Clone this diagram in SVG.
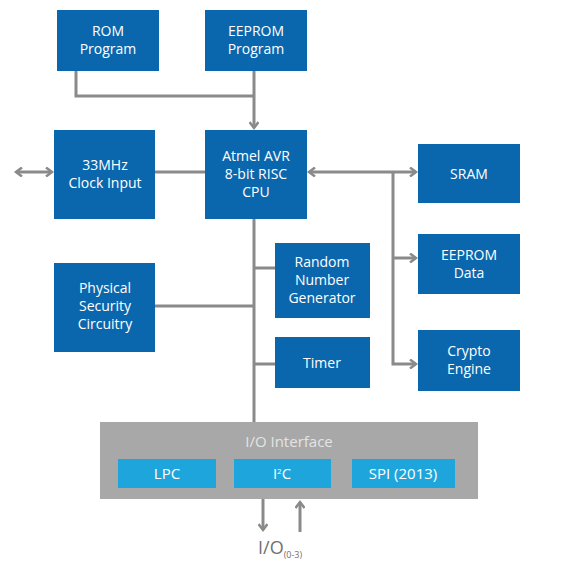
<svg xmlns="http://www.w3.org/2000/svg" width="574" height="561" viewBox="0 0 574 561">
<style>
.n{fill:#0b67ad}
.t{fill:#ffffff;font-family:"Open Sans","Liberation Sans",sans-serif;font-size:14px;text-anchor:middle}
.c{stroke:#8a8a8a;stroke-width:3;fill:none}
.s{fill:#1ea6dc}
.st{fill:#ffffff;font-family:"Open Sans","Liberation Sans",sans-serif;font-size:15px;text-anchor:middle}
</style>
<defs>
<marker id="a" markerWidth="10" markerHeight="10" refX="7" refY="5" orient="auto-start-reverse" markerUnits="userSpaceOnUse">
<path d="M1,0.5 L7,5 L1,9.5" fill="none" stroke="#8a8a8a" stroke-width="2.5"/>
</marker>
</defs>
<g id="connectors">
<path class="c" d="M76,71 V96 H254"/>
<path class="c" d="M254,71 V128" marker-end="url(#a)"/>
<path class="c" d="M16,172 H52" marker-start="url(#a)" marker-end="url(#a)"/>
<path class="c" d="M155,172 H205"/>
<path class="c" d="M309,172 H416" marker-start="url(#a)" marker-end="url(#a)"/>
<path class="c" d="M393,172 V364 H416" marker-end="url(#a)"/>
<path class="c" d="M393,258 H416" marker-end="url(#a)"/>
<path class="c" d="M254,219 V422"/>
<path class="c" d="M254,268 H275"/>
<path class="c" d="M254,364 H275"/>
<path class="c" d="M155,306 H254"/>
<path class="c" d="M263,499 V530" marker-end="url(#a)"/>
<path class="c" d="M300,532 V502" marker-end="url(#a)"/>
</g>
<g id="rom"><rect class="n" x="57" y="10" width="102" height="61"/><text class="t" x="108" y="36">ROM</text><text class="t" x="108" y="54">Program</text></g>
<g id="eeprom-program"><rect class="n" x="205" y="10" width="102" height="61"/><text class="t" x="256" y="36">EEPROM</text><text class="t" x="256" y="54">Program</text></g>
<g id="clock"><rect class="n" x="54" y="130" width="101" height="89"/><text class="t" x="105" y="170">33MHz</text><text class="t" x="105" y="188">Clock Input</text></g>
<g id="cpu"><rect class="n" x="205" y="130" width="102" height="89"/><text class="t" x="256" y="161">Atmel AVR</text><text class="t" x="256" y="179">8-bit RISC</text><text class="t" x="256" y="197">CPU</text></g>
<g id="sram"><rect class="n" x="418" y="144" width="102" height="59"/><text class="t" x="469" y="179">SRAM</text></g>
<g id="eeprom-data"><rect class="n" x="418" y="234" width="102" height="60"/><text class="t" x="469" y="260">EEPROM</text><text class="t" x="469" y="278">Data</text></g>
<g id="crypto"><rect class="n" x="418" y="330" width="102" height="61"/><text class="t" x="469" y="356">Crypto</text><text class="t" x="469" y="374">Engine</text></g>
<g id="rng"><rect class="n" x="275" y="243" width="95" height="75"/><text class="t" x="322" y="267">Random</text><text class="t" x="322" y="285">Number</text><text class="t" x="322" y="303">Generator</text></g>
<g id="timer"><rect class="n" x="275" y="337" width="95" height="51"/><text class="t" x="322" y="368">Timer</text></g>
<g id="physical"><rect class="n" x="54" y="263" width="101" height="89"/><text class="t" x="105" y="293">Physical</text><text class="t" x="105" y="311">Security</text><text class="t" x="105" y="329">Circuitry</text></g>
<g id="io">
<rect x="100" y="422" width="378" height="77" fill="#a8a8a8"/>
<text x="289" y="447" fill="#e4e4e4" font-family="'Open Sans','Liberation Sans',sans-serif" font-size="15" text-anchor="middle">I/O Interface</text>
<g id="lpc"><rect class="s" x="118" y="459" width="98" height="29"/><text class="st" x="167" y="479">LPC</text></g>
<g id="i2c"><rect class="s" x="234" y="459" width="97" height="29"/><text class="st" x="282" y="479">I<tspan font-size="8" dy="-5">2</tspan><tspan dy="5">C</tspan></text></g>
<g id="spi"><rect class="s" x="352" y="459" width="103" height="29"/><text class="st" x="403" y="479">SPI (2013)</text></g>
</g>
<text x="258" y="554" fill="#707070" font-family="'Open Sans','Liberation Sans',sans-serif" font-size="18">I/O<tspan font-size="9" dy="4">(0-3)</tspan></text>
</svg>
